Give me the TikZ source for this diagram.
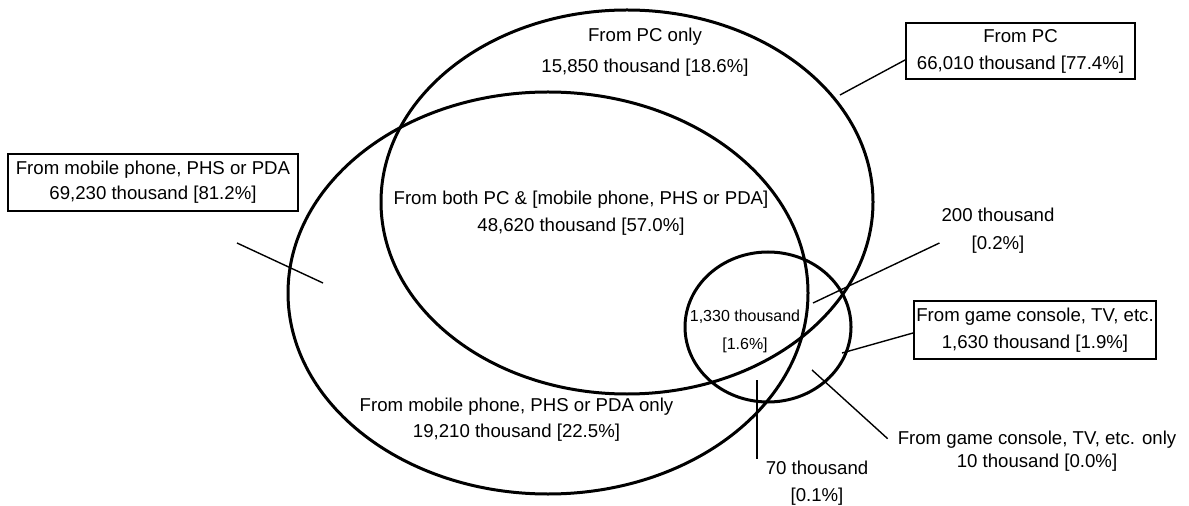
\documentclass[tikz,border=0pt]{standalone}
\usepackage{fontspec}
\setmainfont{Liberation Sans}
\usetikzlibrary{positioning}

\tikzset{
	setline/.style={line width=0.06cm},
	ptr/.style={line width=0.028cm},
	lbl/.style={align=center,inner sep=1pt,font=\fontsize{10.6}{14.2}\selectfont},
	lblbox/.style={lbl,draw,line width=0.04cm,inner sep=0pt},
}

\begin{document}
\begin{tikzpicture}[x=0.02cm,y=-0.02cm]
\useasboundingbox (0,0) rectangle (1189,506);

%Sets
\draw[setline] (627,202) ellipse [x radius=246,y radius=192];
\draw[setline] (548,293) ellipse [x radius=260,y radius=201];
\draw[setline] (768,327) ellipse [x radius=83,y radius=75];

%Areas
\node [lbl]  (pconly)at (645,52.5) {From PC only\\[3.4pt]15,850 thousand [18.6\%]};
\node [lbl]  (both)at (581,213.5) {From both PC \& [mobile phone, PHS or PDA]\\[1.1pt]48,620 thousand [57.0\%]};
\node [lbl]  (mobonly)at (516.5,420) {From mobile phone, PHS or PDA only\\[0.6pt]19,210 thousand [22.5\%]};
\node [lbl,font=\fontsize{9.1}{15.9}\selectfont]  (core)at (745,331) {1,330 thousand\\{}[1.6\%]};

%Totals
\node [lblbox,minimum width=5.8cm,minimum height=1.14cm]  (mobbox)at (153,182.5) {From mobile phone, PHS or PDA\\69,230 thousand [81.2\%]};
\node [lblbox,minimum width=4.58cm,minimum height=1.12cm]  (pcbox)at (1020.5,51) {From PC\\[1.1pt]66,010 thousand [77.4\%]};
\node [lblbox,minimum width=4.84cm,minimum height=1.16cm]  (gamebox)at (1035,330) {From game console, TV, etc.\\[1.1pt]1,630 thousand [1.9\%]};

%Small areas
\node [lbl]  (t200)at (998,231) {200 thousand\\[1.7pt]{}[0.2\%]};
\node [lbl]  (t70)at (817,483.5) {70 thousand\\[1.1pt]{}[0.1\%]};
\node [lbl]  (gameonly)at (1037,451) {From game console, TV, etc. only\\[-1.1pt]10 thousand [0.0\%]};

%Pointers
\coordinate (mobend) at (237,243);
\coordinate (mobtip) at (323,283);
\draw[ptr] (mobend) -- (mobtip);

\coordinate (pctip) at (840,95);
\draw[ptr] (pctip) -- ([yshift=-0.18cm]pcbox.west);

\coordinate (tip200) at (813,303);
\draw[ptr] (tip200) -- ([yshift=-0.24cm]t200.west);

\coordinate (tipgame) at (842,353);
\draw[ptr] (tipgame) -- ([yshift=-0.06cm]gamebox.west);

\coordinate (tiponly) at (812,370);
\draw[ptr] (tiponly) -- ([xshift=-0.16cm,yshift=-0.2cm]gameonly.north west);

\coordinate (tip70) at (757,380);
\draw[ptr] (tip70) -- (tip70 |- t70.north);

\end{tikzpicture}
\end{document}
